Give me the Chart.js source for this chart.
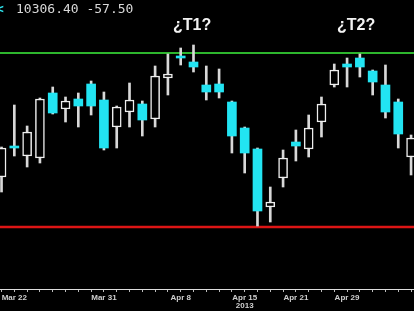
<!DOCTYPE html>
<html>
<head>
<meta charset="utf-8">
<script src="https://cdn.jsdelivr.net/npm/chart.js@4.4.1/dist/chart.umd.min.js"></script>
<style>
    html, body { margin: 0; padding: 0; background: #000; }
    #wrap { position: relative; width: 414px; height: 311px; overflow: hidden; background: #000; }
    #chart { position: absolute; left: 0; top: 0; }
    .quote { position: absolute; left: 16px; top: 1px; font: 13px "DejaVu Sans Mono", monospace; color: #d8d8d8; white-space: pre; }
    .arrow { position: absolute; left: -4px; top: 1px; font: bold 13px "DejaVu Sans Mono", monospace; color: #2ee6f0; }
    .target { position: absolute; top: 16px; font: bold 16px "Liberation Sans", Arial, sans-serif; color: #f2f2f2; }
</style>
</head>
<body>
<div id="wrap">
    <canvas id="chart" width="414" height="311"></canvas>
    <div class="arrow">&lt;</div>
    <div class="quote">10306.40 -57.50</div>
    <div class="target" style="left:173px">¿T1?</div>
    <div class="target" style="left:337px">¿T2?</div>
</div>
<script>
// daily candles, oldest first
const opens  = [10200, 10324, 10284, 10276, 10536, 10472, 10512, 10572, 10508, 10400, 10460, 10492, 10432, 10596, 10684, 10660, 10568,
                10572, 10500, 10396, 10312, 10080, 10196, 10340, 10312, 10420, 10568, 10652, 10676, 10624, 10568, 10500, 10280];
const highs  = [10320, 10488, 10404, 10516, 10560, 10520, 10536, 10584, 10540, 10484, 10576, 10504, 10644, 10692, 10716, 10728, 10644,
                10632, 10504, 10400, 10316, 10160, 10308, 10388, 10448, 10520, 10652, 10676, 10692, 10628, 10648, 10512, 10368];
const lows   = [10140, 10284, 10240, 10256, 10452, 10420, 10400, 10448, 10308, 10316, 10400, 10364, 10400, 10528, 10648, 10620, 10508,
                10516, 10296, 10216, 10004, 10020, 10160, 10264, 10280, 10360, 10560, 10560, 10600, 10528, 10436, 10316, 10208];
const closes = [10316, 10316, 10380, 10512, 10456, 10504, 10484, 10484, 10316, 10480, 10508, 10428, 10604, 10612, 10676, 10640, 10540,
                10540, 10364, 10296, 10064, 10100, 10276, 10324, 10396, 10492, 10628, 10640, 10640, 10580, 10460, 10372, 10356];

const resistance = 10696;
const support = 10000;

// candle index -> axis label
const tickPositions = [1, 8, 14, 19, 23, 27];
const tickLabels = ["Mar 22", "Mar 31", "Apr 8", ["Apr 15", "2013"], "Apr 21", "Apr 29"];

const CYAN = "#22e4f2";
const WHITE = "#eeeeee";

function isBull(i) {
    return closes[i] >= opens[i];
}

const wickData = lows.map((low, i) => ({ x: i, y: [low, highs[i]] }));
const bodyData = opens.map((open, i) => ({ x: i, y: [open, closes[i]] }));

const ctx = document.getElementById("chart").getContext("2d");
new Chart(ctx, {
    type: "bar",
    data: {
        datasets: [
            {
                label: "body",
                data: bodyData,
                grouped: false,
                barThickness: 9,
                minBarLength: 2,
                borderSkipped: false,
                backgroundColor: bodyData.map((d, i) => isBull(i) ? "#000" : CYAN),
                borderColor: bodyData.map((d, i) => isBull(i) ? WHITE : CYAN),
                borderWidth: bodyData.map((d, i) => isBull(i) ? 1.5 : 0),
                order: 0
            },
            {
                label: "wick",
                data: wickData,
                grouped: false,
                barThickness: 2,
                backgroundColor: "#d8d8d8",
                order: 1
            },
            {
                type: "line",
                label: "resistance",
                data: [{ x: -2, y: resistance }, { x: 34, y: resistance }],
                borderColor: "#2db52d",
                borderWidth: 2,
                pointRadius: 0,
                order: 2
            },
            {
                type: "line",
                label: "support",
                data: [{ x: -2, y: support }, { x: 34, y: support }],
                borderColor: "#dd1515",
                borderWidth: 2.5,
                pointRadius: 0,
                order: 2
            }
        ]
    },
    options: {
        responsive: false,
        animation: false,
        devicePixelRatio: 1,
        events: [],
        layout: { padding: 0 },
        plugins: { legend: { display: false }, tooltip: { enabled: false } },
        scales: {
            x: {
                type: "linear",
                min: -0.12,
                max: 32.23,
                offset: false,
                afterBuildTicks: scale => {
                    // a small tick under every candle, labels only on some
                    scale.ticks = opens.map((o, i) => ({ value: i }));
                },
                afterFit: scale => {
                    scale.height = 22;
                },
                ticks: {
                    autoSkip: false,
                    maxRotation: 0,
                    padding: 1,
                    color: "#cfcfcf",
                    font: { family: "Liberation Sans", size: 8, weight: "bold", lineHeight: 1.1 },
                    callback: value => {
                        const k = tickPositions.indexOf(value);
                        return k === -1 ? "" : tickLabels[k];
                    }
                },
                grid: { drawOnChartArea: false, offset: false, tickLength: 3, color: "#bbbbbb" },
                border: { display: true, color: "#dddddd", width: 1 }
            },
            y: {
                display: false,
                min: 9752,
                max: 10908
            }
        }
    }
});
</script>
</body>
</html>
